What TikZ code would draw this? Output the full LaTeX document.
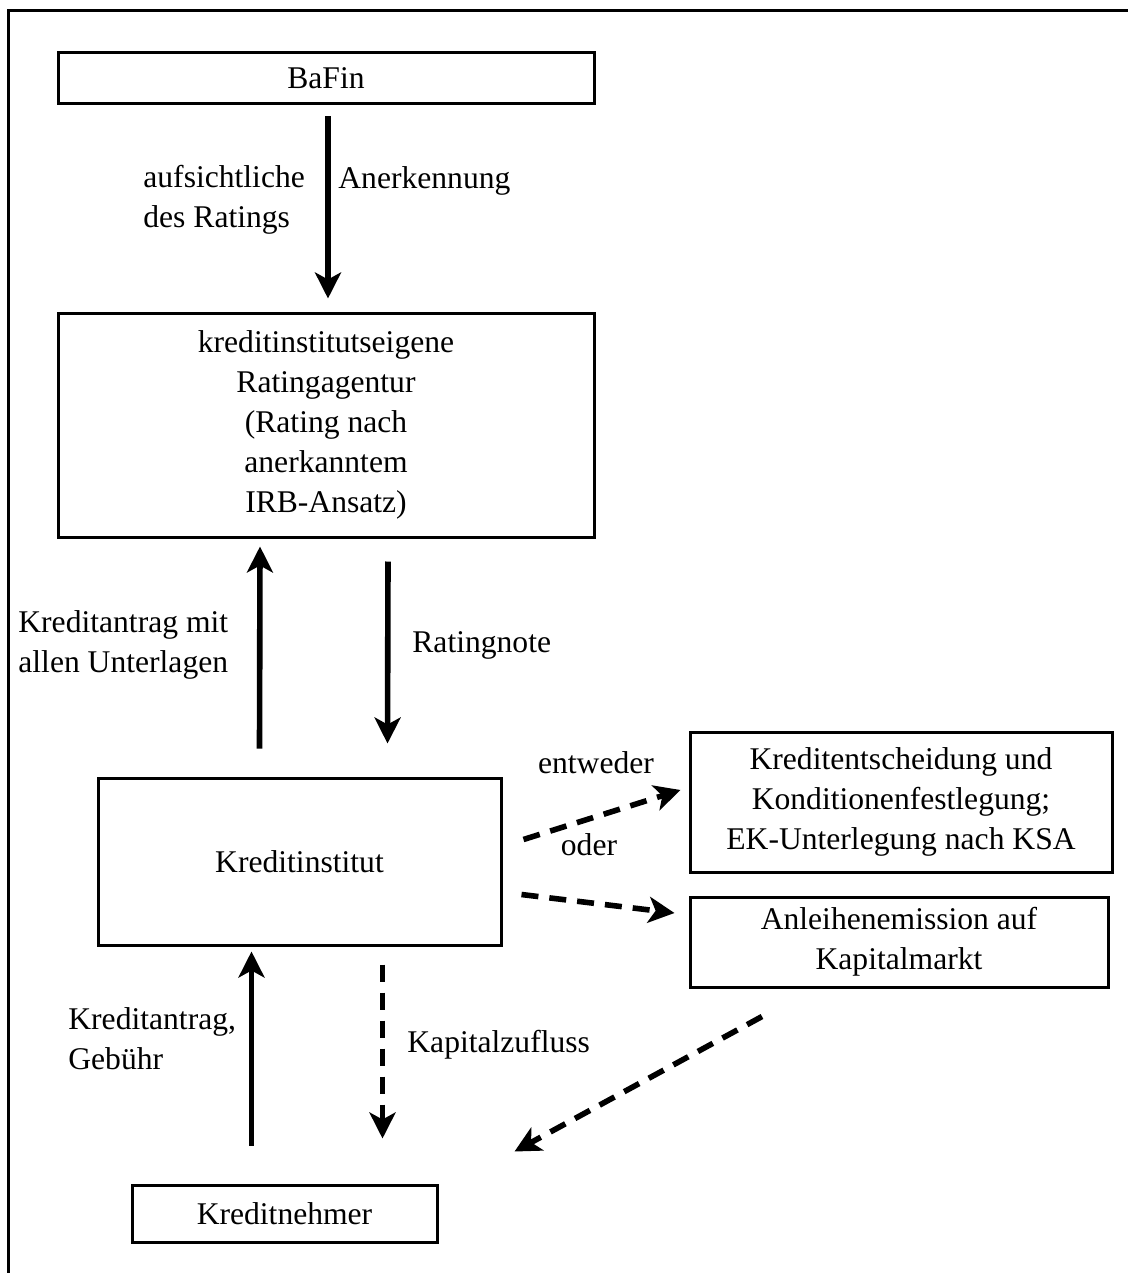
\documentclass[tikz,border=0pt]{standalone}
\usepackage{fontspec}
\setmainfont{Liberation Serif}
\usepackage{tikz}
\usetikzlibrary{arrows.meta,calc}

\begin{document}
\begin{tikzpicture}[x=0.5pt,y=-0.5pt,>={Stealth[length=13pt,width=13pt,inset=3.5pt]},
   font=\fontsize{15.8}{20}\selectfont,
   box/.style={draw, line width=1.5pt, inner sep=0pt, align=center},
   pfeil/.style={->, line width=2.8pt},
   strich/.style={->, line width=2.8pt, dash pattern=on 8.5pt off 5.5pt},
   label/.style={inner sep=0pt, align=left}]
  \useasboundingbox (0,0) rectangle (1128,1273);
  % Rahmen (nur oben und links)
  \draw[line width=1.5pt] (8,1273) -- (8,11) -- (1128,11);
  \node[box, minimum width=268pt, minimum height=25.5pt] (bafin) at (326,78.5) {BaFin};
  \node[box, minimum width=268pt, minimum height=112pt] (agentur) at (326,425) {kreditinstitutseigene\\ Ratingagentur\\ (Rating nach\\ anerkanntem\\ IRB-Ansatz)};
  \node[box, minimum width=201.5pt, minimum height=83.5pt] (institut) at (299.5,861.5) {Kreditinstitut};
  \node[box, minimum width=211pt, minimum height=70pt] (entscheidung) at (901,802) {Kreditentscheidung und\\ Konditionenfestlegung;\\ EK-Unterlegung nach KSA};
  \node[box, minimum width=209pt, minimum height=45pt] (anleihe) at (899,942) {Anleihenemission auf\\ Kapitalmarkt};
  \node[box, minimum width=152.5pt, minimum height=28.5pt] (nehmer) at (284.5,1213.5) {Kreditnehmer};
  % Beschriftungen
  \node[label, anchor=west] (l1) at (143,200) {aufsichtliche\\ des Ratings};
  \node[label, anchor=west] (l2) at (338,181) {Anerkennung};
  \node[label, anchor=west] (l3) at (18,645) {Kreditantrag mit\\ allen Unterlagen};
  \node[label, anchor=west] (l4) at (412,645) {Ratingnote};
  \node[label] (l5) at (596,763) {entweder};
  \node[label] (l6) at (589,845) {oder};
  \node[label, anchor=west] (l7) at (407,1045) {Kapitalzufluss};
  \node[label, anchor=west] (l8) at (68,1039) {Kreditantrag,\\ Gebühr};
  % Pfeile
  \draw[pfeil] ($(bafin.south)+(2,11)$) -- ($(agentur.north)+(2,-13)$);
  \draw[pfeil] ($(institut.north)+(-40,-28)$) -- ($(agentur.south)+(-66,8)$);
  \draw[pfeil] ($(agentur.south)+(62,23)$) -- ($(institut.north)+(88,-33)$);
  \draw[strich] ($(institut.east)+(21,-22)$) -- ($(entscheidung.west)+(-8,-12)$);
  \draw[strich] ($(institut.east)+(19,33)$) -- ($(anleihe.west)+(-14,-29)$);
  \draw[pfeil] ($(nehmer.north)+(-33,-38)$) -- ($(institut.south)+(-48,5)$);
  \draw[strich] ($(institut.south)+(83,18)$) -- ($(nehmer.north)+(98,-45)$);
  \draw[strich] ($(anleihe.south)+(-137,28)$) -- ($(nehmer.north east)+(76,-32)$);
\end{tikzpicture}
\end{document}
